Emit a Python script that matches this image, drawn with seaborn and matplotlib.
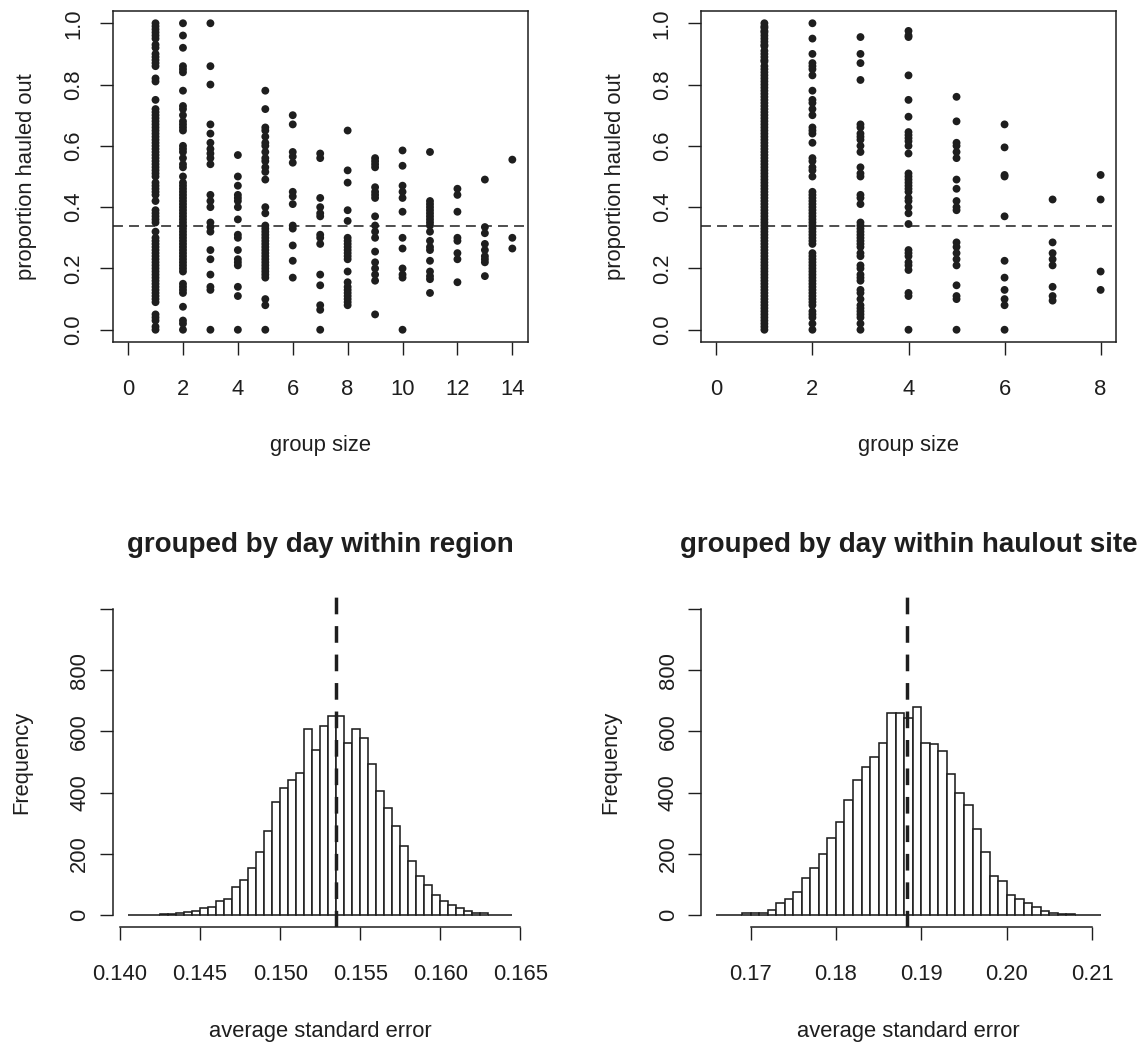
import numpy as np
import pandas as pd
import matplotlib
matplotlib.use("Agg")
import matplotlib.pyplot as plt
import seaborn as sns

# ---------------- data ----------------
# top-left: proportion hauled out by group size (grouped by day within region)
region_groups = {
    1: [1.00, 0.99, 0.98, 0.97, 0.96, 0.95, 0.93, 0.92, 0.90, 0.89, 0.88, 0.87, 0.86, 0.82, 0.81,
        0.75, 0.72, 0.71, 0.70, 0.69, 0.68, 0.67, 0.66, 0.65, 0.64, 0.63, 0.62, 0.61, 0.60, 0.59,
        0.58, 0.57, 0.56, 0.55, 0.54, 0.53, 0.52, 0.51, 0.50, 0.48, 0.47, 0.46, 0.45, 0.44, 0.42,
        0.39, 0.38, 0.37, 0.36, 0.35, 0.32, 0.30, 0.29, 0.28, 0.27, 0.26, 0.25, 0.24, 0.23, 0.22,
        0.21, 0.20, 0.19, 0.18, 0.17, 0.16, 0.15, 0.14, 0.13, 0.12, 0.11, 0.10, 0.09, 0.05, 0.04,
        0.03, 0.01, 0.00],
    2: [1.00, 0.96, 0.92, 0.86, 0.85, 0.84, 0.78, 0.73, 0.72, 0.70, 0.68, 0.67, 0.66, 0.65, 0.60,
        0.59, 0.58, 0.56, 0.54, 0.53, 0.50, 0.48, 0.47, 0.46, 0.45, 0.44, 0.43, 0.42, 0.41, 0.40,
        0.39, 0.38, 0.37, 0.36, 0.35, 0.34, 0.33, 0.32, 0.31, 0.30, 0.29, 0.28, 0.27, 0.26, 0.25,
        0.24, 0.23, 0.22, 0.21, 0.20, 0.19, 0.15, 0.14, 0.13, 0.12, 0.075, 0.03, 0.02, 0.00],
    3: [1.00, 0.86, 0.80, 0.67, 0.64, 0.61, 0.59, 0.575, 0.56, 0.54, 0.44, 0.42, 0.40, 0.35,
        0.335, 0.32, 0.26, 0.23, 0.18, 0.14, 0.13, 0.00],
    4: [0.57, 0.50, 0.47, 0.44, 0.43, 0.42, 0.40, 0.36, 0.31, 0.30, 0.26, 0.23, 0.22, 0.21,
        0.14, 0.11, 0.00],
    5: [0.78, 0.72, 0.66, 0.65, 0.63, 0.61, 0.60, 0.58, 0.56, 0.55, 0.53, 0.515, 0.49, 0.40,
        0.38, 0.34, 0.33, 0.32, 0.31, 0.30, 0.29, 0.28, 0.27, 0.26, 0.25, 0.24, 0.23, 0.22,
        0.21, 0.20, 0.19, 0.18, 0.17, 0.10, 0.08, 0.00],
    6: [0.70, 0.67, 0.58, 0.565, 0.545, 0.45, 0.435, 0.41, 0.34, 0.33, 0.275, 0.225, 0.17],
    7: [0.575, 0.56, 0.43, 0.40, 0.38, 0.37, 0.31, 0.30, 0.28, 0.18, 0.145, 0.08, 0.065, 0.00],
    8: [0.65, 0.52, 0.48, 0.39, 0.355, 0.30, 0.29, 0.28, 0.27, 0.26, 0.25, 0.24, 0.23, 0.19,
        0.155, 0.14, 0.13, 0.12, 0.11, 0.10, 0.09, 0.08],
    9: [0.56, 0.55, 0.54, 0.53, 0.465, 0.45, 0.44, 0.43, 0.37, 0.34, 0.32, 0.30, 0.255, 0.22,
        0.20, 0.18, 0.16, 0.05],
    10: [0.585, 0.535, 0.47, 0.45, 0.43, 0.385, 0.30, 0.265, 0.20, 0.18, 0.17, 0.00],
    11: [0.58, 0.42, 0.41, 0.40, 0.39, 0.38, 0.37, 0.36, 0.35, 0.34, 0.32, 0.29, 0.27, 0.26,
         0.225, 0.19, 0.175, 0.165, 0.12],
    12: [0.46, 0.44, 0.385, 0.30, 0.29, 0.25, 0.23, 0.155],
    13: [0.49, 0.335, 0.315, 0.28, 0.26, 0.24, 0.23, 0.22, 0.175],
    14: [0.555, 0.30, 0.265],
}

# top-right: proportion hauled out by group size (grouped by day within haulout site)
site_groups = {
    1: [1.00, 0.99, 0.985, 0.975, 0.97, 0.96, 0.95, 0.94, 0.93, 0.925, 0.91, 0.90, 0.89, 0.88,
        0.875, 0.86, 0.85, 0.84, 0.83, 0.82, 0.81, 0.80, 0.79, 0.78, 0.77, 0.76, 0.75, 0.74,
        0.73, 0.72, 0.71, 0.70, 0.69, 0.68, 0.67, 0.66, 0.65, 0.64, 0.63, 0.62, 0.61, 0.60,
        0.59, 0.58, 0.57, 0.56, 0.55, 0.54, 0.53, 0.52, 0.51, 0.50, 0.49, 0.48, 0.47, 0.46,
        0.45, 0.44, 0.43, 0.42, 0.41, 0.40, 0.39, 0.38, 0.37, 0.36, 0.35, 0.34, 0.33, 0.32,
        0.31, 0.30, 0.29, 0.28, 0.27, 0.26, 0.25, 0.24, 0.23, 0.22, 0.21, 0.20, 0.19, 0.18,
        0.17, 0.16, 0.15, 0.14, 0.13, 0.12, 0.11, 0.10, 0.09, 0.08, 0.07, 0.06, 0.05, 0.04,
        0.03, 0.02, 0.01, 0.00],
    2: [1.00, 0.95, 0.90, 0.87, 0.86, 0.85, 0.83, 0.78, 0.75, 0.74, 0.72, 0.70, 0.66, 0.65,
        0.64, 0.61, 0.56, 0.55, 0.53, 0.52, 0.50, 0.45, 0.44, 0.43, 0.42, 0.41, 0.40, 0.39,
        0.38, 0.37, 0.36, 0.35, 0.34, 0.33, 0.32, 0.31, 0.30, 0.29, 0.28, 0.25, 0.24, 0.23,
        0.22, 0.21, 0.20, 0.19, 0.18, 0.17, 0.16, 0.15, 0.14, 0.13, 0.12, 0.11, 0.10, 0.09,
        0.08, 0.06, 0.05, 0.04, 0.02, 0.00],
    3: [0.955, 0.90, 0.87, 0.815, 0.67, 0.66, 0.64, 0.63, 0.62, 0.60, 0.58, 0.53, 0.51, 0.50,
        0.44, 0.43, 0.41, 0.35, 0.34, 0.33, 0.32, 0.31, 0.30, 0.29, 0.28, 0.27, 0.25, 0.24,
        0.21, 0.20, 0.18, 0.17, 0.16, 0.13, 0.12, 0.10, 0.08, 0.07, 0.06, 0.05, 0.04, 0.02,
        0.00],
    4: [0.975, 0.96, 0.955, 0.83, 0.75, 0.695, 0.645, 0.635, 0.625, 0.615, 0.60, 0.575, 0.51,
        0.50, 0.49, 0.48, 0.47, 0.46, 0.45, 0.43, 0.42, 0.40, 0.38, 0.345, 0.26, 0.25, 0.24,
        0.22, 0.21, 0.195, 0.12, 0.11, 0.00],
    5: [0.76, 0.68, 0.61, 0.60, 0.58, 0.56, 0.49, 0.46, 0.42, 0.40, 0.39, 0.285, 0.27, 0.25,
        0.23, 0.21, 0.145, 0.11, 0.10, 0.00],
    6: [0.67, 0.595, 0.505, 0.50, 0.37, 0.225, 0.17, 0.13, 0.10, 0.08, 0.00],
    7: [0.425, 0.285, 0.25, 0.23, 0.21, 0.14, 0.11, 0.095],
    8: [0.505, 0.425, 0.19, 0.13],
}
overall_mean = 0.337

# bottom-left histogram: average standard error, grouped by day within region
region_bin_start = 0.1405
region_bin_width = 0.0005
region_counts = [0, 0, 0, 0, 1, 2, 5, 8, 11, 22, 24, 44, 51, 90, 115, 153, 205, 275, 370, 415,
                 442, 465, 607, 539, 618, 649, 649, 561, 607, 579, 494, 405, 350, 290, 225, 177,
                 126, 97, 64, 46, 33, 21, 11, 7, 6, 0, 0, 0]
region_observed = 0.1535

# bottom-right histogram: average standard error, grouped by day within haulout site
site_bin_start = 0.166
site_bin_width = 0.001
site_counts = [0, 0, 0, 6, 6, 7, 16, 40, 51, 73, 119, 153, 200, 250, 305, 375, 440, 483, 517,
               563, 662, 662, 645, 679, 563, 558, 535, 460, 400, 360, 280, 205, 126, 109, 64,
               51, 40, 27, 11, 5, 2, 4, 0, 0, 0]
site_observed = 0.1883

titles = ["grouped by day within region", "grouped by day within haulout site"]

# ---------------- style ----------------
sns.set_style("white")
plt.rcParams["font.family"] = ["Liberation Sans", "DejaVu Sans"]
INK = "#1e1e1e"
FS = 15.8
W, H = 1144, 1046

fig = plt.figure(figsize=(W / 100, H / 100), dpi=100)


def rect(l, r, t, b):
    return [l / W, 1 - b / H, (r - l) / W, (b - t) / H]


def style_axes(ax, box=True, ypad=6.7):
    for s in ax.spines.values():
        s.set_color(INK)
        s.set_linewidth(1.1)
        s.set_visible(box)
    ax.tick_params(axis="both", direction="out", length=9.4, width=1.0, color=INK,
                   labelsize=FS, labelcolor=INK, bottom=True, left=True, top=False, right=False)
    ax.tick_params(axis="x", pad=17.3)
    ax.tick_params(axis="y", pad=ypad)


def set_labels(ax, xlabel, ylabel, height_px, width_px, yoff_px):
    ax.set_xlabel(xlabel, fontsize=FS, color=INK, va="center")
    ax.set_ylabel(ylabel, fontsize=FS, color=INK, va="center")
    ax.xaxis.set_label_coords(0.5, -104 / height_px)
    ax.yaxis.set_label_coords(-yoff_px / width_px, 0.5)


def scatter_panel(pos, groups, xmax, xticks):
    ax = fig.add_axes(rect(*pos))
    df = pd.DataFrame([(g, v) for g, vals in groups.items() for v in vals],
                      columns=["group size", "proportion"])
    sns.scatterplot(data=df, x="group size", y="proportion", ax=ax, color=INK,
                    s=32, linewidth=0, edgecolor="none", legend=False, zorder=3)
    ax.axhline(overall_mean, color=INK, lw=1.1, linestyle=(0, (6.5, 4.0)), zorder=4)
    ax.set_xlim(-0.04 * xmax, 1.04 * xmax)
    ax.set_ylim(-0.04, 1.04)
    ax.set_xticks(xticks)
    ax.set_xticklabels([str(t) for t in xticks])
    yt = [0.0, 0.2, 0.4, 0.6, 0.8, 1.0]
    ax.set_yticks(yt)
    ax.set_yticklabels([f"{t:.1f}" for t in yt], rotation=90, va="center")
    style_axes(ax, box=True, ypad=11.0)
    set_labels(ax, "group size", "proportion hauled out", pos[3] - pos[2], pos[1] - pos[0], 86)
    return ax


def hist_panel(pos, start, width, counts, observed, xticks, xtick_labels, title):
    ax = fig.add_axes(rect(*pos))
    n = len(counts)
    edges = start + width * np.arange(n + 1)
    df = pd.DataFrame({"se": (edges[:-1] + edges[1:]) / 2, "count": counts})
    sns.histplot(data=df, x="se", weights="count", bins=[float(e) for e in edges], ax=ax,
                 stat="count", color="white", edgecolor=INK, linewidth=1.15, alpha=1.0)
    lo, hi = edges[0], edges[-1]
    pad = 0.04 * (hi - lo)
    ax.set_xlim(lo - pad, hi + pad)
    ax.set_ylim(-40, 1040)
    ax.axvline(observed, color=INK, lw=2.5, linestyle=(0, (4.8, 3.4)), zorder=5)
    ax.set_xticks(xticks)
    ax.set_xticklabels(xtick_labels)
    yt = [0, 200, 400, 600, 800, 1000]
    ax.set_yticks(yt)
    ax.set_yticklabels(["0", "200", "400", "600", "800", ""], rotation=90, va="center")
    style_axes(ax, box=False, ypad=6.7)
    ax.spines["left"].set_visible(True)
    ax.spines["bottom"].set_visible(True)
    ax.spines["left"].set_bounds(0, 1000)
    ax.spines["bottom"].set_bounds(xticks[0], xticks[-1])
    set_labels(ax, "average standard error", "Frequency", pos[3] - pos[2], pos[1] - pos[0], 90.7)
    ax.set_title(title, fontsize=20, fontweight="bold", color=INK,
                 y=1 + (597 - 545) / (pos[3] - pos[2]), va="center", pad=0)
    return ax


scatter_panel((112.7, 527.7, 11, 342), region_groups, 14, [0, 2, 4, 6, 8, 10, 12, 14])
scatter_panel((701, 1116, 11, 342), site_groups, 8, [0, 2, 4, 6, 8])

hist_panel((112.7, 527.7, 597, 927), region_bin_start, region_bin_width, region_counts,
           region_observed, [0.140, 0.145, 0.150, 0.155, 0.160, 0.165],
           ["0.140", "0.145", "0.150", "0.155", "0.160", "0.165"], titles[0])
hist_panel((701, 1116, 597, 927), site_bin_start, site_bin_width, site_counts,
           site_observed, [0.17, 0.18, 0.19, 0.20, 0.21],
           ["0.17", "0.18", "0.19", "0.20", "0.21"], titles[1])

fig.savefig("out.png", dpi=100, facecolor="white")
